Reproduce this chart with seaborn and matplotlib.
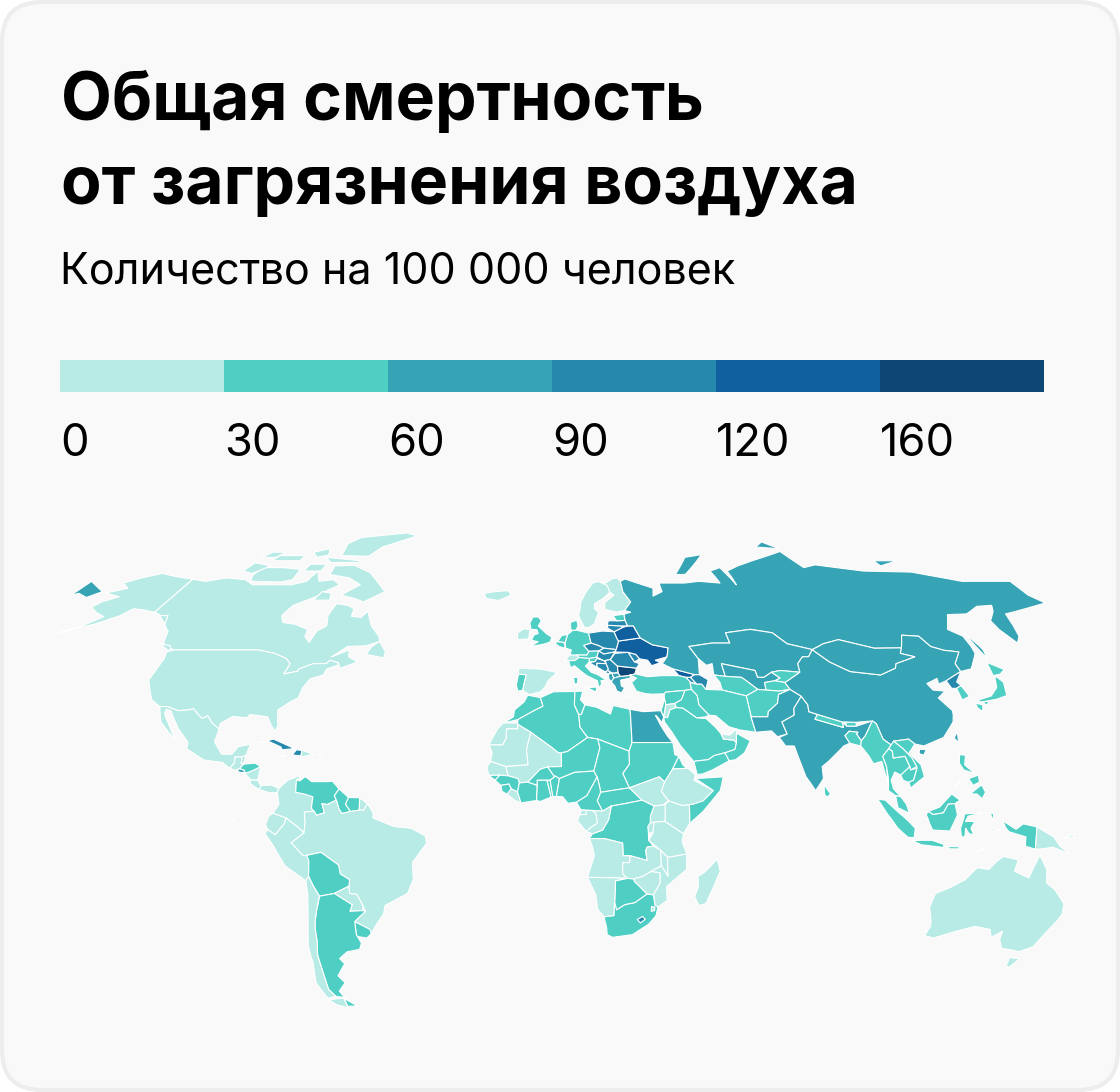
import numpy as np
import matplotlib
matplotlib.use('Agg')
import matplotlib.pyplot as plt
import seaborn as sns
from matplotlib.colors import ListedColormap
from matplotlib.patches import FancyBboxPatch

# legend
bin_labels = ['0', '30', '60', '90', '120', '160']
bin_colors = ['#b8ebe6', '#4fcfc4', '#37a4b5', '#2788ae', '#105f9f', '#0e4675']

# which bin each country falls in (missing countries stay blank, as in the source)
bin0 = ['Canada', 'Alaska', 'USA', 'Mexico', 'Guatemala', 'Belize', 'Nicaragua', 'CostaRica', 'Panama', 'DomRep',
        'Colombia', 'Ecuador', 'Peru', 'Brazil', 'Paraguay', 'Chile', 'FrGuiana', 'WSahara', 'Mauritania', 'Mali',
        'Senegal', 'Liberia', 'SSudan', 'Ethiopia', 'Kenya', 'Uganda', 'Rwanda', 'Tanzania', 'Congo', 'Gabon',
        'EqGuinea', 'Angola', 'Zambia', 'Malawi', 'Mozambique', 'Zimbabwe', 'Namibia', 'Eswatini', 'Madagascar',
        'Australia', 'PNG', 'Ireland', 'Iceland', 'Spain', 'Switzerland', 'Sweden', 'Finland', 'Jordan', 'UAE']
bin1 = ['Honduras', 'Venezuela', 'Guyana', 'Suriname', 'Bolivia', 'Uruguay', 'Argentina', 'Morocco', 'Algeria',
        'Tunisia', 'Libya', 'GuineaBissau', 'Guinea', 'SierraLeone', 'IvoryCoast', 'Burkina', 'Ghana', 'Togo',
        'Benin', 'Niger', 'Nigeria', 'Chad', 'Cameroon', 'CAR', 'Sudan', 'Eritrea', 'Somalia', 'DRC', 'Botswana',
        'SouthAfrica', 'UK', 'Portugal', 'Germany', 'Netherlands', 'Belgium', 'Denmark', 'Austria', 'Slovenia',
        'Italy', 'Estonia', 'Turkey', 'Syria', 'Iraq', 'Israel', 'Saudi', 'Yemen', 'Oman', 'Iran', 'Turkmenistan',
        'Kyrgyzstan', 'Tajikistan', 'Afghanistan', 'Nepal', 'Bhutan', 'Bangladesh', 'Myanmar', 'Thailand', 'Laos',
        'Cambodia', 'Vietnam', 'Malaysia', 'Indonesia', 'Philippines', 'SriLanka', 'SouthKorea', 'Japan']
bin2 = ['Russia', 'Kazakhstan', 'Uzbekistan', 'Mongolia', 'China', 'Pakistan', 'India', 'Taiwan', 'Egypt',
        'ElSalvador', 'Albania', 'Macedonia', 'Greece']
bin3 = ['Cuba', 'Haiti', 'Poland', 'Czechia', 'Slovakia', 'Hungary', 'Croatia', 'Bosnia', 'Serbia', 'Montenegro',
        'Romania', 'Moldova', 'Lithuania', 'Latvia', 'Armenia', 'Azerbaijan', 'NorthKorea', 'Lesotho']
bin4 = ['Ukraine', 'Belarus', 'Georgia']
bin5 = ['Bulgaria']

# outlines as lon/lat rings
americas = {
    'Canada': [[(-141,69.6),(-135,69),(-128,70),(-120,69.5),(-115,68),(-108,68),(-100,68),(-95,69),(-94,72),(-90,69),(-85,69.5),(-81,68),(-85,66),(-87,64.5),(-93,62),(-94.5,59),(-92.5,57),(-88,56.5),(-82.5,55),(-82,52.9),(-79.5,51.2),(-79,54.5),(-76.5,56),(-78,59),(-77.5,62.5),(-73,62),(-70,61),(-69.5,58.8),(-66,58.5),(-64.5,60.3),(-61,56),(-57,53),(-56,51.5),(-60,50.2),(-66,50),(-70,47),(-65,49),(-64.5,47),(-61,45.5),(-66,43.6),(-67,45.2),(-70,46),(-71,45),(-75,45),(-79,43.4),(-79,42.8),(-83,42),(-82.5,45),(-84.5,46.5),(-89,48),(-95,49),(-123,49),(-128,51),(-130,54.5),(-133,56),(-135,59),(-137.5,59),(-141,60)],
               [(-62,66),(-68,63),(-72,64),(-78,65),(-73,68),(-79,70),(-88,71),(-89,73.5),(-81,73.7),(-72,71.5),(-68,69.5)],
               [(-117,69),(-105,68.8),(-101,69.5),(-102,72.5),(-110,73),(-118,73),(-119,71)],
               [(-125,72),(-120,71.3),(-116,73.5),(-124,74.4)],
               [(-90,76.5),(-78,76.3),(-75,79),(-62,82.3),(-68,83.1),(-88,81.8),(-92,80)],
               [(-96,76),(-80,75),(-80,74.5),(-92,74.5)],
               [(-118,75),(-106,75),(-106,76.5),(-117,76.5)],
               [(-124,76),(-118,76),(-116,77.5),(-122,77.5)],
               [(-104,77.5),(-100,76),(-96,76.7),(-98,78.5)],
               [(-100,72),(-93,72),(-93,74),(-100,74)],
               [(-87,63.5),(-81,63.5),(-82,65.5),(-86,66)],
               [(-59,47.7),(-53,46.7),(-53,48.5),(-56,51.5),(-58,50)],
               [(-128.5,50.7),(-123.5,48.4),(-125,50.3)]],
    'Alaska': [[(-141,69.6),(-150,70.5),(-156.5,71.3),(-162,70),(-166.5,68.5),(-162,67),(-164,66.5),(-168,65.6),(-161,64.5),(-165,63),(-166,61.5),(-162,60),(-157.5,58.7),(-162,55.7),(-167,54),(-158,56.5),(-152,59),(-150,61),(-146,60.7),(-141,60),(-137.5,59),(-135,59),(-133,56),(-131,55),(-135,57.5),(-138,59),(-141,60)]],
    'USA': [[(-123,49),(-95,49),(-89,48),(-84.5,46.5),(-82.5,45),(-83,42),(-79,42.8),(-79,43.4),(-75,45),(-71,45),(-70,46),(-67,45.2),(-67,44.5),(-70,43.5),(-70.5,41.7),(-74,40.6),(-75.5,38),(-76,35),(-78,33.9),(-81,31.5),(-80,27),(-80.5,25.2),(-82,27),(-83.5,29.5),(-85,29.7),(-89,30.2),(-89.5,29.2),(-94,29.6),(-97.3,27.5),(-97.2,25.9),(-99.5,27.5),(-101.5,29.8),(-103,29),(-106.5,31.8),(-108.2,31.5),(-111,31.3),(-114.8,32.5),(-117.1,32.5),(-120.5,34.5),(-122.5,37.5),(-124.3,40.3),(-124,46.5),(-124.7,48.4)]],
    'Mexico': [[(-117.1,32.5),(-114.8,32.5),(-111,31.3),(-108.2,31.5),(-106.5,31.8),(-103,29),(-101.5,29.8),(-99.5,27.5),(-97.2,25.9),(-97.8,22.3),(-95,18.6),(-92,18.6),(-90.5,20.8),(-87,21.5),(-87.8,18.3),(-89,17.8),(-91,17.8),(-91,16),(-92.2,14.5),(-94.5,16.2),(-100,16.9),(-105.5,20.2),(-105.5,22),(-109.3,26),(-113,31.2),(-114.7,31.7),(-114.7,30.5),(-111,25),(-109.5,23),(-112,25),(-115,28),(-116,30.5)]],
    'Guatemala': [[(-92.2,14.5),(-91,16),(-91,17.8),(-89,17.8),(-89,15.9),(-88.2,15.7),(-89.3,14.4),(-90.5,13.9)]],
    'Belize': [[(-89,17.8),(-87.8,18.3),(-88.3,16),(-89,15.9)]],
    'ElSalvador': [[(-90,13.7),(-89.3,14.4),(-87.8,13.9),(-87.8,13.2),(-89,13.3)]],
    'Honduras': [[(-89.3,14.4),(-88.2,15.7),(-85,16),(-83.2,15),(-85,14),(-87,13),(-87.8,13.4),(-87.8,13.9)]],
    'Nicaragua': [[(-87.5,13),(-85,14),(-83.2,15),(-83.7,11),(-85.7,11.1)]],
    'CostaRica': [[(-85.7,11.1),(-83.7,11),(-82.6,9.5),(-83,8.2),(-85.7,10)]],
    'Panama': [[(-83,8.2),(-82.6,9.5),(-79.5,9.6),(-77.4,8.6),(-77.8,7.4),(-80,7.3),(-81,7.7)]],
    'Cuba': [[(-84.9,21.9),(-80.5,23),(-75,20.7),(-74.2,20.2),(-77.5,19.9),(-78,20.7),(-82,22.4)]],
    'Haiti': [[(-74.4,18.4),(-71.8,18.1),(-71.7,19.7),(-73.3,19.9)]],
    'DomRep': [[(-71.7,19.8),(-68.4,18.6),(-71.5,17.8),(-71.8,18.1)],
               [(-78.3,18.4),(-76.3,18.1),(-77,17.8)],
               [(-67.2,18.5),(-65.6,18.4),(-66,18)]],
    'Colombia': [[(-77.4,8.6),(-75,11),(-72,12.2),(-71.3,11.8),(-72.4,11.1),(-72.5,7.5),(-70,7),(-67.5,6.2),(-67.8,2.8),(-67,2),(-69.8,1.7),(-69.5,-1),(-70,-4.3),(-72,-2.4),(-75,0),(-78.8,1.4),(-77.2,4),(-77.8,7.4)]],
    'Venezuela': [[(-72.4,11.1),(-71.5,10.8),(-70,12.1),(-68,10.6),(-64,10.6),(-62,10.7),(-60,8.5),(-61.3,6.5),(-60.7,5.2),(-63.3,3.9),(-64.8,4.2),(-64,1.5),(-66.3,0.8),(-67,2),(-67.8,2.8),(-67.5,6.2),(-70,7),(-72.5,7.5)]],
    'Guyana': [[(-60,8.5),(-57.2,6),(-58,4),(-56.5,1.9),(-59,1.3),(-59.8,2.5),(-60.7,5.2),(-61.3,6.5)]],
    'Suriname': [[(-57.2,6),(-54,5.9),(-54,3.6),(-54,2.3),(-56.5,1.9),(-58,4)]],
    'FrGuiana': [[(-54,5.9),(-51.7,4.2),(-52.7,2.3),(-54,2.3),(-54,3.6)]],
    'Brazil': [[(-51.7,4.2),(-50,1.5),(-50,0),(-44,-2.5),(-39,-3),(-35,-5.3),(-34.8,-7.5),(-39,-13),(-39,-18),(-41,-22),(-48,-25.5),(-48.7,-28),(-53.4,-33.7),(-53.5,-32.5),(-57.6,-30.2),(-54,-27.2),(-54.6,-25.5),(-55.9,-22.3),(-58,-22),(-58,-19.9),(-57.6,-18),(-60.2,-16.3),(-60.5,-13.7),(-65.3,-10),(-69.5,-10.9),(-70.5,-11),(-73.8,-7.2),(-70,-4.3),(-69.5,-1),(-69.8,1.7),(-67,2),(-66.3,0.8),(-64,1.5),(-64.8,4.2),(-63.3,3.9),(-60.7,5.2),(-59.8,2.5),(-59,1.3),(-56.5,1.9),(-54,2.3),(-52.7,2.3)]],
    'Ecuador': [[(-78.8,1.4),(-75,0),(-75.5,-1.6),(-78.3,-4.9),(-80.3,-3.4),(-81,-2),(-80,0.5)],
                [(-91.6,-0.3),(-90,-0.4),(-90.8,-1)]],
    'Peru': [[(-81.3,-4.5),(-80.3,-3.4),(-78.3,-4.9),(-75.5,-1.6),(-75,0),(-72,-2.4),(-70,-4.3),(-73.8,-7.2),(-70.5,-11),(-69.5,-10.9),(-69,-12.5),(-69.5,-17),(-70.4,-18.3),(-76,-14),(-79,-8)]],
    'Bolivia': [[(-69.5,-10.9),(-65.3,-10),(-60.5,-13.7),(-60.2,-16.3),(-57.6,-18),(-58,-19.9),(-62.5,-22),(-67,-22.8),(-68.5,-19.5),(-69.5,-17),(-69,-12.5)]],
    'Paraguay': [[(-58,-19.9),(-58,-22),(-55.9,-22.3),(-54.6,-25.5),(-54.7,-27),(-58.6,-27.2),(-57.7,-25.3),(-62.5,-22)]],
    'Uruguay': [[(-58,-34),(-57.6,-30.2),(-53.5,-32.5),(-53.4,-33.7),(-55,-35),(-58,-34.5)]],
    'Argentina': [[(-67,-22.8),(-62.5,-22),(-57.7,-25.3),(-58.6,-27.2),(-54.7,-27),(-54,-27.2),(-57.6,-30.2),(-58,-34),(-57,-36.5),(-58,-38.3),(-62,-39),(-65,-41),(-64,-42.5),(-67.5,-46),(-66,-48),(-69,-50.5),(-68.3,-52.3),(-71,-52),(-72.3,-50),(-72,-46),(-71.5,-40),(-70.5,-36),(-70,-32),(-68.5,-27)],
                  [(-68.6,-52.6),(-65.2,-54.8),(-68.6,-54.9)]],
    'Chile': [[(-70.4,-18.3),(-69.5,-17),(-68.5,-19.5),(-67,-22.8),(-68.5,-27),(-70,-32),(-70.5,-36),(-71.5,-40),(-72,-46),(-72.3,-50),(-71,-52),(-74,-52.5),(-75.5,-48),(-73.8,-42),(-73.5,-37),(-71.5,-30),(-70.3,-22)],
              [(-74,-53),(-68.7,-52.5),(-68.7,-55.3),(-72,-54.5)]],
}

africa = {
    'Morocco': [[(-5.9,35.8),(-2,35.1),(-1.2,32.6),(-3.5,31.5),(-8.7,28.7),(-13,27.7),(-10,29.5),(-9.8,31.5),(-7,33.8)]],
    'WSahara': [[(-13,27.7),(-8.7,27.7),(-8.7,26),(-12,26),(-12,23.4),(-13,21.3),(-17,21.3),(-16,23.5),(-14.5,26.2)]],
    'Algeria': [[(-2,35.1),(2,36.8),(8.6,36.9),(8.3,33),(9.5,30.2),(9.8,26.5),(12,23.5),(6,19.4),(4.2,19),(3.3,19),(1.2,20.7),(-4.8,25),(-8.7,27.3),(-8.7,28.7),(-3.5,31.5),(-1.2,32.6)]],
    'Tunisia': [[(8.6,36.9),(11,37),(10.2,34.5),(11.5,33),(10.3,30.2),(9.5,30.2),(8.3,33)]],
    'Libya': [[(11.5,33),(15,32.3),(19,30.3),(20,32.8),(25,31.7),(25,22),(24,19.5),(15,23),(12,23.5),(9.8,26.5),(9.5,30.2),(10.3,30.2)]],
    'Egypt': [[(25,31.7),(29,31),(34.2,31.3),(34.9,29.5),(34.2,27.8),(33,29.5),(32.5,29.9),(33.8,27),(35.5,24),(37,22),(25,22)]],
    'Mauritania': [[(-17,21.3),(-13,21.3),(-12,23.4),(-12,26),(-8.7,26),(-8.7,27.3),(-4.8,25),(-6,20),(-5.5,15.5),(-12,15),(-16.5,16.5),(-16,19)]],
    'Mali': [[(-4.8,25),(1.2,20.7),(3.3,19),(4.2,19),(4.2,15),(0.2,14.9),(-2,14.2),(-5.5,10.5),(-8,10.2),(-8.4,11.5),(-11.3,12.3),(-12,15),(-5.5,15.5),(-6,20)]],
    'Senegal': [[(-16.5,16.5),(-12,15),(-11.3,12.3),(-13.7,12.5),(-16.8,12.4),(-17.5,14.7)]],
    'GuineaBissau': [[(-16.8,12.4),(-13.7,12.5),(-15,11)]],
    'Guinea': [[(-13.7,12.5),(-11.3,12.3),(-8.4,11.5),(-8,10.2),(-8.5,7.6),(-10.3,8.5),(-11,9.9),(-13.3,9.5),(-15,11)]],
    'SierraLeone': [[(-13.3,9.5),(-11,9.9),(-10.3,8.5),(-11.5,6.9),(-13,7.8)]],
    'Liberia': [[(-11.5,6.9),(-10.3,8.5),(-8.5,7.6),(-7.5,4.4),(-9,5)]],
    'IvoryCoast': [[(-8.5,7.6),(-8,10.2),(-5.5,10.5),(-2.8,9.5),(-3,5.1),(-7.5,4.4)]],
    'Burkina': [[(-5.5,10.5),(-2,14.2),(0.2,14.9),(2.2,12),(0.9,11),(-2.8,11),(-2.8,9.5)]],
    'Ghana': [[(-2.8,11),(0,11),(1.2,6.1),(-2,4.8),(-3,5.1),(-2.8,9.5)]],
    'Togo': [[(0,11),(0.9,11),(1.7,6.2),(1.2,6.1)]],
    'Benin': [[(0.9,11),(2.2,12),(2.4,12.3),(3.6,11.5),(2.7,6.3),(1.7,6.2)]],
    'Niger': [[(0.2,14.9),(4.2,15),(4.2,19),(6,19.4),(12,23.5),(15,23),(15.5,20.5),(13.6,13.7),(8,13.3),(3.6,11.5),(2.4,12.3),(2.2,12)]],
    'Nigeria': [[(2.7,6.3),(3.6,11.5),(8,13.3),(13.6,13.7),(14.5,12),(11.5,6.5),(8.5,4.6),(6,4.3),(4.5,6.2)]],
    'Chad': [[(15,23),(24,19.5),(24,15.7),(22,13),(23.8,8.8),(18.6,8),(15.5,7.5),(15,10),(14.5,12),(13.6,13.7),(15.5,20.5)]],
    'Cameroon': [[(11.5,6.5),(14.5,12),(15,10),(15.5,7.5),(14.5,5),(16,2),(13,2.2),(9.8,2.3),(8.5,4.6)]],
    'CAR': [[(15.5,7.5),(18.6,8),(23.8,8.8),(27.4,5.2),(22.5,4.2),(18.5,3.5),(16,2),(14.5,5)]],
    'Sudan': [[(24,19.5),(25,22),(37,22),(37.3,18.5),(38.5,18),(36.5,14.3),(34,10.5),(32.5,12),(27,10),(23.8,8.8),(22,13),(24,15.7)]],
    'SSudan': [[(23.8,8.8),(27,10),(32.5,12),(34,10.5),(33,7.8),(35,5),(33.5,3.8),(30.8,3.5),(27.4,5.2)]],
    'Eritrea': [[(36.5,14.3),(38.5,18),(39.5,15.5),(43,12.6),(41,14.5)]],
    'Ethiopia': [[(34,10.5),(36.5,14.3),(41,14.5),(43,12.6),(42.5,11),(48,8),(45,5),(42,4),(39,3.6),(35,5),(33,7.8)]],
    'Somalia': [[(43,11.5),(51,12),(50,8),(45,2),(41,-1.6),(41,3.9),(42,4),(45,5),(48,8)]],
    'Kenya': [[(35,5),(39,3.6),(41,3.9),(41,-1.6),(39.3,-4.6),(33.9,-1),(34,4)]],
    'Uganda': [[(30.8,3.5),(33.5,3.8),(35,5),(34,4),(33.9,-1),(29.7,-1.4),(29.7,0.5)]],
    'Rwanda': [[(29.7,-1.4),(30.8,-1.2),(30.5,-4.4),(29.2,-4.3),(29,-2.5)]],
    'Tanzania': [[(33.9,-1),(39.3,-4.6),(39,-7),(40.4,-10.5),(34.9,-11.5),(32.8,-9.4),(29.3,-6.5),(30.5,-4.4),(30.8,-1.2)]],
    'DRC': [[(18.5,3.5),(22.5,4.2),(27.4,5.2),(30.8,3.5),(29.7,0.5),(29.7,-1.4),(29,-2.5),(29.2,-4.3),(29.3,-6.5),(30.7,-8.2),(28.9,-8.5),(28.5,-9.5),(29,-12.4),(27,-11.8),(24,-11),(22,-11),(21.8,-7.3),(16.5,-6),(12.2,-6),(13.1,-4.6),(16,-3.5),(17.7,-0.5)]],
    'Congo': [[(16,2),(18.5,3.5),(17.7,-0.5),(16,-3.5),(13.1,-4.6),(11.2,-3.9),(13.2,-2.3),(14.5,-1.5),(14,1.4),(13,2.2)]],
    'Gabon': [[(9.8,2.3),(13,2.2),(14,1.4),(14.5,-1.5),(13.2,-2.3),(11.2,-3.9),(8.8,-0.8),(9.4,1)]],
    'EqGuinea': [[(9.8,2.3),(11.3,2.2),(11.3,1),(9.5,1)]],
    'Angola': [[(12.2,-6),(16.5,-6),(21.8,-7.3),(22,-11),(24,-11),(24,-13),(22,-13),(22,-16.2),(23.4,-17.6),(18.5,-17.4),(11.8,-17.3),(13.7,-11),(13,-8)]],
    'Zambia': [[(22,-13),(24,-13),(24,-11),(27,-11.8),(29,-12.4),(28.5,-9.5),(28.9,-8.5),(30.7,-8.2),(32.8,-9.4),(33.2,-14),(30.2,-15.6),(28,-17),(25.3,-17.8),(23.4,-17.6),(22,-16.2)]],
    'Malawi': [[(32.8,-9.4),(34.9,-11.5),(35,-14),(35.3,-17),(33.2,-14)]],
    'Mozambique': [[(34.9,-11.5),(40.4,-10.5),(40.6,-15),(35,-20),(35.5,-24),(32.9,-26),(32,-25.5),(31.3,-22.4),(33,-19),(32.9,-16),(30.2,-15.6),(33.2,-14),(35.3,-17),(35,-14)]],
    'Zimbabwe': [[(25.3,-17.8),(28,-17),(30.2,-15.6),(32.9,-16),(33,-19),(31.3,-22.4),(29.4,-22.2),(25.5,-18.5)]],
    'Botswana': [[(20,-18.3),(23.4,-17.6),(25.3,-17.8),(25.5,-18.5),(29.4,-22.2),(26,-24.7),(23,-25.3),(20.7,-26.8),(20,-24.8),(20,-22)]],
    'Namibia': [[(11.8,-17.3),(18.5,-17.4),(23.4,-17.6),(20,-18.3),(20,-22),(20,-24.8),(20,-28.5),(17,-28.8),(15,-26.5),(14.4,-22.5)]],
    'SouthAfrica': [[(17,-28.8),(20,-28.5),(20,-24.8),(20.7,-26.8),(23,-25.3),(26,-24.7),(29.4,-22.2),(31.3,-22.4),(32,-25.5),(32.9,-26),(32.5,-28.5),(30.5,-31),(26,-34),(20,-34.8),(18.3,-34),(18,-32)]],
    'Lesotho': [[(27,-29.6),(28.5,-28.7),(29.4,-29.5),(28,-30.6)]],
    'Eswatini': [[(31,-25.8),(32,-26),(32,-27),(31,-27.2)]],
    'Madagascar': [[(49.3,-12),(50.4,-15.5),(47,-25),(45,-25.5),(43.5,-23),(44.3,-20),(44,-17),(46,-15.7)]],
}

europe = {
    'UK': [[(-5,58.6),(-3,58.6),(-2,57.5),(-3,56),(-1.5,54.8),(0,53.6),(1.7,52.7),(1,51.3),(-1,50.7),(-5.5,50),(-3,51.4),(-5.2,51.8),(-4.5,53.3),(-3,53.8),(-3.5,54.9),(-5.5,55),(-6,56.8)]],
    'Ireland': [[(-10,52),(-6.2,52.2),(-6,54),(-5.8,54.9),(-8,55.2),(-10,54)]],
    'Iceland': [[(-24,65.5),(-20,66),(-15,66.3),(-13.5,65),(-18,63.4),(-22.7,64)]],
    'Portugal': [[(-9,41.9),(-6.5,41.8),(-7,39.7),(-7.5,37.2),(-9,37),(-9.5,38.7)]],
    'Spain': [[(-9,43.7),(-1.8,43.4),(3.2,42.4),(0.3,40),(-0.4,38.5),(-2,36.8),(-5.4,36),(-7.5,37.2),(-7,39.7),(-6.5,41.8),(-9,41.9)]],
    'Switzerland': [[(6,46.2),(7.5,47.6),(9.6,47.5),(10.4,46.8),(9,45.9),(7,45.9)]],
    'Germany': [[(6,51),(7,53.5),(8.8,54.7),(10,54.8),(14.2,53.9),(14.7,51),(12.2,50.3),(13.8,48.6),(13,47.5),(9.6,47.5),(7.5,47.6),(8,49),(6.2,49.5)]],
    'Netherlands': [[(3.5,51.4),(5,53.2),(7,53.5),(6,51),(5.5,51.2)]],
    'Belgium': [[(2.6,51),(3.5,51.4),(5.5,51.2),(6,50.5),(5.7,49.5),(4,50)]],
    'Denmark': [[(8.2,55),(8.2,57),(10.5,57.7),(10.8,56),(10,54.8),(8.8,54.7)]],
    'Sweden': [[(11.2,59),(13,55.5),(14.3,55.5),(16.5,56.5),(18.5,60),(17.2,61),(17.5,62.5),(21,64),(24,65.8),(23.5,67.8),(20.5,69),(18,68.5),(15,66),(12.5,63),(12,61)]],
    'Finland': [[(21,60.8),(25,60),(28,60.5),(31,63),(29,66),(29,69),(28,70),(26,69.8),(23,68.5),(20.5,69),(23.5,67.8),(24,65.8),(25.3,65),(21.3,62.8)]],
    'Poland': [[(14.2,53.9),(19,54.5),(23,54.3),(23.6,52.3),(24,51.6),(22.8,49.1),(19,49.5),(18.8,49.5),(17,50.3),(14.7,51)]],
    'Czechia': [[(12.2,50.3),(14.7,51),(17,50.3),(18.8,49.5),(17,48.7),(13.8,48.6)]],
    'Slovakia': [[(17,48.7),(18.8,49.5),(19,49.5),(22.8,49.1),(22.2,48.4),(18.5,47.8)]],
    'Austria': [[(9.6,47.5),(13,47.5),(13.8,48.6),(17,48.7),(16.2,46.9),(13.7,46.5),(10.4,46.8)]],
    'Hungary': [[(16.2,46.9),(17,48.7),(18.5,47.8),(22.2,48.4),(20.5,46.2),(18.8,45.9),(18.5,45.8)]],
    'Slovenia': [[(13.7,46.5),(16.2,46.9),(16.2,46.5),(15.5,45.6),(13.6,45.5)]],
    'Croatia': [[(13.6,45.3),(15.5,45.6),(16.2,46.5),(18.5,45.8),(19,45),(16,45.1),(16,44),(18.4,42.6),(15,44.5)]],
    'Bosnia': [[(16,45.1),(19,45),(19.5,43.5),(19.3,43),(18.4,42.6),(16,44)]],
    'Serbia': [[(18.8,45.9),(20.5,46.2),(22.5,44.3),(22.5,42.5),(21,42.2),(20.5,42.3),(19.3,43),(19.5,43.5),(19,45)]],
    'Montenegro': [[(18.4,42.6),(19.3,43),(20,42.5),(19.3,41.9)]],
    'Albania': [[(19.3,41.9),(20.5,42.3),(20.9,40.8),(20,39.7),(19.4,40.5)]],
    'Macedonia': [[(20.5,42.3),(21,42.2),(22.5,42.3),(23,41.3),(20.9,40.8)]],
    'Greece': [[(20,39.7),(20.9,40.8),(23,41.3),(26.3,41.6),(26,40.8),(23,40.2),(23,38.5),(24,38),(22.9,36.5),(21.5,37),(21,38.5)],
               [(23.6,35.5),(26.2,35.2),(25,35)]],
    'Bulgaria': [[(22.5,44.3),(28.5,43.7),(27.7,42),(26.3,41.6),(23,41.3),(22.5,42.3)]],
    'Romania': [[(20.5,46.2),(22.2,48),(26.6,48.3),(28.2,45.5),(29.7,45),(28.5,43.7),(22.5,44.3)]],
    'Moldova': [[(26.6,48.3),(29,47.7),(30,46.4),(28.2,45.5)]],
    'Ukraine': [[(22.2,48.4),(22.8,49.1),(24,51.6),(31.5,52.5),(35,50.5),(40,49.6),(39,47),(35,46),(36.5,45.3),(33.5,44.4),(32.5,46),(30,46.4),(29,47.7),(26.6,48.3)]],
    'Belarus': [[(23.6,52.3),(24,51.6),(31.5,52.5),(30,56),(28,56),(26,55.5),(23,54.3)]],
    'Lithuania': [[(21,55.3),(23,54.3),(26,55.5),(26,56),(21,56.2)]],
    'Latvia': [[(21,56.2),(21.5,57.5),(24.5,57.5),(27.5,57.6),(28,56),(26,56)]],
    'Estonia': [[(23.5,59),(27.5,59.4),(27.5,57.6),(24.5,57.5)]],
    'Georgia': [[(40,43.5),(46.5,41.8),(45,41),(43.5,41),(41.5,41.5)]],
    'Armenia': [[(43.5,41),(45,41),(46.5,39),(44.5,39.7)]],
    'Azerbaijan': [[(45,41),(46.5,41.8),(48,41.8),(50.3,40.3),(49,37.5),(48,39),(46.5,39)]],
    'Italy': [[(7,45.9),(9,45.9),(10.4,46.8),(13.7,46.5),(13.6,45.5),(12.3,44.3),(14,42.5),(16,41.8),(18.5,40.2),(16.8,40),(17,39),(16,38),(15.7,40),(12.5,41.5),(10.5,43),(8.8,44.4),(7.5,43.8)],
              [(12.5,38),(15.5,38.2),(15,36.7)],
              [(8.3,41),(9.7,41),(9.5,39.2),(8.5,39)]],
}

asia = {
    'Russia': [[(31,69.7),(41,67),(40,64.7),(44,66),(44,68.5),(54,68.5),(60,69),(68,68.5),(67,72),(72,73),(74,68),(74,72),(80,73.5),(88,75),(104,77.7),(107,73),(113,73.8),(130,72),(149,71.7),(164,69),(183,69),(182,65),(184,62.7),(171,60.6),(164,59.5),(162,56),(160,53),(157,51),(155.7,55),(156,57.5),(161,60.5),(163,62),(157,61.7),(150,59.5),(143,59.3),(138,55),(141,53),(140,48),(135,43.5),(131,42.7),(131,45),(135,48.4),(130.5,48.9),(127,50),(126,53),(120.5,53.3),(117,49.6),(108,49.5),(98,52),(92,50.8),(87.3,49.1),(80,50.8),(77,54),(70,55),(61,54),(61,51),(55,51),(47,50),(49,46.5),(48,41.8),(46.5,41.8),(40,43.5),(37,45),(39,47),(40,49.6),(35,50.5),(31.5,52.5),(30,56),(28,56),(27.5,57.6),(27.5,59.4),(30,60),(28,60.5),(31,63),(29,66),(29,69)],
               [(-180,69),(-175,67.5),(-170,66),(-173,64.3),(-178,65.5),(-180,65)],
               [(52,71),(56,71),(68,76.8),(60,76)],
               [(95,79),(105,78.5),(100,80.5)],
               [(140,75),(150,75),(140,73.5)],
               [(142.5,54.3),(143.5,49),(142.7,46.5),(142,50)]],
    'Kazakhstan': [[(47,50),(55,51),(61,51),(61,54),(70,55),(77,54),(80,50.8),(87.3,49.1),(85,47),(83,47),(80.5,45),(80,42.5),(74,43),(71,42.5),(68,41),(66,41),(66,43),(61,44),(56,45),(56,41.3),(52.5,41.7),(53,45),(51,44.5),(49,46.5)]],
    'Uzbekistan': [[(56,45),(61,44),(66,43),(66,41),(68,41),(71,42.5),(73,40.8),(71,40),(67.7,39.5),(67.5,37.3),(65,37.5),(61,41),(56,41.3)]],
    'Turkmenistan': [[(52.5,41.7),(56,41.3),(61,41),(65,37.5),(61,35.6),(54,37.3),(53.8,39.5)]],
    'Kyrgyzstan': [[(71,42.5),(74,43),(80,42.5),(74,39.5),(71,40),(73,40.8)]],
    'Tajikistan': [[(67.7,39.5),(71,40),(74,39.5),(75,37.5),(71.5,37),(67.5,37.3)]],
    'Afghanistan': [[(61,35.6),(65,37.5),(67.5,37.3),(71.5,37),(75,37.5),(71,36),(70,33.5),(66.5,31),(66,29.5),(61,29.5),(61,31.5)]],
    'Iran': [[(44.5,39.5),(46.5,39),(48,39),(49,37.5),(54,37.3),(61,35.6),(61,31.5),(61,29.5),(61.8,25),(57,25.7),(54,26.6),(50.5,29.8),(48.5,30),(46,33),(46,35.7),(44.5,37.5)]],
    'Pakistan': [[(61,29.5),(66,29.5),(66.5,31),(70,33.5),(71,36),(75,37.5),(77.8,35.5),(74.5,32),(74,30),(70,28),(71,24.5),(68,23.7),(66.5,25.4),(61.8,25)]],
    'India': [[(77.8,35.5),(79,33),(78.7,31),(81,30.2),(80,28.8),(88,26.4),(88,28),(89,26.8),(92,26.8),(97,28.3),(94,24),(92.5,22.5),(91.5,24.5),(92,25),(89.5,25.3),(88,24),(89,21.8),(87,21),(82,16.5),(80,15),(80,11.5),(77.5,8),(75,12),(73,19),(72.5,21),(70,21),(68.5,23.5),(71,24.5),(70,28),(74,30),(74.5,32)]],
    'Nepal': [[(80,28.8),(81,30.2),(88,28),(88,26.4)]],
    'Bhutan': [[(89,26.8),(89,28),(92,27.9),(92,26.8)]],
    'Bangladesh': [[(88,24),(89.5,25.3),(92,25),(91.5,24.5),(92.5,22.5),(92,21),(89,21.8)]],
    'China': [[(74,39.5),(80,42.5),(80.5,45),(83,47),(85,47),(87.3,49.1),(91,45.5),(96,42.7),(105,41.7),(111,43.7),(112,45),(119.5,47),(115.5,48),(117,49.6),(120.5,53.3),(126,53),(127,50),(130.5,48.9),(135,48.4),(131,45),(131,42.7),(128,41.5),(124.4,40),(121.5,39),(122,40.7),(118,39.2),(119,37.3),(122.5,37),(119.5,35),(122,31.3),(121,28),(117,23.5),(110.5,21),(108,21.6),(106.5,23),(102,22.4),(101,21.3),(99,23),(98,27.5),(97,28.3),(92,27.9),(89,28),(88,28),(81,30.2),(78.7,31),(79,33),(77.8,35.5),(75,37.5)],
              [(109,20),(111,20),(110,18.3),(108.7,18.8)]],
    'Mongolia': [[(87.3,49.1),(92,50.8),(98,52),(108,49.5),(117,49.6),(115.5,48),(119.5,47),(112,45),(111,43.7),(105,41.7),(96,42.7),(91,45.5)]],
    'NorthKorea': [[(124.4,40),(128,41.5),(131,42.7),(130.5,42.3),(127.5,39.7),(128.3,38.6),(126.5,37.8),(125,37.8)]],
    'SouthKorea': [[(126.5,37.8),(128.3,38.6),(129.3,35.5),(126.5,34.4)]],
    'Japan': [[(141,41.3),(142,39.5),(140.8,35.7),(137,34.6),(132,33.8),(131,34.3),(136,35.6),(139,38),(140,40.5)],
              [(140.3,41.5),(141.5,45.4),(145.3,43.3),(143,42)],
              [(130,33.5),(132,33),(131,31),(130,32)],
              [(132.5,33.9),(134.5,34),(133,32.8)]],
    'Taiwan': [[(121.5,25.2),(121,22),(120,23.3)]],
    'Myanmar': [[(92,21),(92.5,22.5),(94,24),(97,28.3),(98,27.5),(99,23),(101,21.3),(100,20.2),(98,18),(98.7,15),(98.5,10),(97.5,16.5),(95,15.8),(94,18)]],
    'Thailand': [[(100,20.2),(101,19.5),(101,17.5),(104.5,18),(105.5,15),(102.5,12.5),(100.9,13.4),(99.5,11),(100,8.5),(102,6.2),(100.5,6.5),(98.5,8),(98.8,12),(98.7,15),(98,18)]],
    'Laos': [[(101,21.3),(102,22.4),(104,20.5),(106.5,17.5),(107.5,15),(105.5,14),(105.5,15),(104.5,18),(101,17.5),(101,19.5),(100,20.2)]],
    'Cambodia': [[(102.5,12.5),(105.5,15),(105.5,14),(107.5,14.5),(106,11),(104.5,10.4),(103,11)]],
    'Vietnam': [[(102,22.4),(106.5,23),(108,21.6),(105.8,19),(108.8,15.5),(109.3,12),(106.5,10),(105,8.7),(104.5,10.4),(106,11),(107.5,14.5),(107.5,15),(106.5,17.5),(104,20.5)]],
    'Malaysia': [[(100.5,6.5),(102,6.2),(103.5,4),(104.2,1.4),(101,3)],
                 [(109.7,1.9),(113,3.2),(116.7,7),(119,5.2),(117.5,4.2),(115.5,4),(114,1.5),(111,1)]],
    'Indonesia': [[(109,1),(109.7,1.9),(111,1),(114,1.5),(115.5,4),(117.5,4.2),(118,1),(116,-3.8),(111,-3.5),(110,-1.5)],
                  [(95.3,5.5),(97.5,5.2),(100.5,2.2),(104,-1),(106,-3),(105.8,-5.8),(104,-5.6),(101,-3),(98,1)],
                  [(105.3,-6.6),(108,-6.5),(111,-6.5),(114.5,-7.7),(114.5,-8.6),(108,-7.8)],
                  [(120,1.2),(125,1.5),(121,0.5),(120.3,-1),(123,-1),(122,-3),(123,-5),(121.5,-4.5),(120.5,-3),(120.4,-5.5),(119.4,-5.5),(119,-3),(119.8,0)],
                  [(131,-0.8),(135,-3.3),(137,-1.7),(141,-2.6),(141,-9.1),(138,-8.2),(138,-5.5),(133,-4),(132,-2.8)],
                  [(116,-8.3),(119,-8.4),(119,-9),(116,-9)],
                  [(124,-10),(127,-8.5),(125,-9.5)],
                  [(127.5,1.5),(128,-0.8),(128.5,1.2)],
                  [(128,-3),(130.5,-3.5),(128,-3.5)]],
    'Philippines': [[(120.5,18.5),(122.2,18.3),(121.5,15.5),(124,13),(121,14),(120,16)],
                    [(122,7),(125.5,9.7),(126.5,7.5),(125.4,5.6),(124,7)],
                    [(122,11.5),(125,12.5),(125,10.5),(123,9.5)],
                    [(117.5,8.5),(119.5,11.2),(119,10)]],
    'SriLanka': [[(80,9.7),(81.8,7),(80.7,6),(80,7)]],
    'Australia': [[(114.2,-22),(113.5,-26),(115.5,-31.5),(115,-34.3),(118,-35),(124,-33),(129,-31.6),(134,-32.5),(135.5,-34.8),(138,-33),(138.5,-35.5),(140.5,-38),(144,-38.5),(146.5,-39),(150,-37.5),(151.5,-33),(153.5,-28),(153,-25),(149,-21),(146,-19),(145.3,-15),(142.5,-10.8),(141.5,-14),(140.5,-17.5),(136,-15.5),(136.5,-12.2),(132,-11.2),(130,-13),(128.5,-15),(125,-14.5),(122,-18),(118,-20.3)],
                  [(144.7,-40.7),(148.3,-41),(147,-43.6),(145.7,-43)]],
    'PNG': [[(141,-2.6),(146,-5.5),(148,-8.2),(150.8,-10.5),(146,-8.5),(143,-9),(141,-9.1)],
            [(149,-6),(152,-4.5),(151.5,-5.5)]],
    'Turkey': [[(26,41.7),(28,42),(31.5,41.2),(36,41.5),(41.5,41.5),(43.5,41),(44.5,39.7),(44.5,37.5),(42.5,37.2),(36.5,36.7),(36,36.2),(32,36.1),(30,36.3),(27.5,37),(26.3,39.5),(28,40.8)]],
    'Syria': [[(36,36.2),(36.5,36.7),(42.5,37.2),(41,34.5),(38.8,33.4),(36,33),(35.8,35)]],
    'Iraq': [[(42.5,37.2),(44.5,37.5),(46,35.7),(46,33),(48.5,30),(47.5,29.5),(44.7,29.2),(41,32),(39,32.2),(38.8,33.4),(41,34.5)]],
    'Israel': [[(35.8,35),(36,33),(35.5,31.5),(34.9,29.5),(34.3,31.3),(35.1,33)]],
    'Jordan': [[(35.5,31.5),(36,33),(38.8,33.4),(39,32.2),(37,31.5),(36,29.2),(34.9,29.5)]],
    'Saudi': [[(34.9,29.5),(36,29.2),(37,31.5),(39,32.2),(41,32),(44.7,29.2),(47.5,29),(48.5,28),(50,26.5),(51.5,24.5),(52,23),(55,22.7),(55.7,22),(55,20),(52,19),(48.8,18.2),(47,17),(43.3,16.6),(42.8,16.4),(39.2,21),(37,25),(35,28)]],
    'Yemen': [[(42.8,16.4),(43.3,16.6),(47,17),(48.8,18.2),(52,19),(53.1,16.7),(48,14),(45,12.8),(43.5,12.7)]],
    'Oman': [[(52,19),(55,20),(55.7,22),(56,24.7),(56.4,24.5),(59.8,22.5),(57.7,19),(55,17),(53.1,16.7)]],
    'UAE': [[(51.5,24.5),(54,24.2),(56.3,26),(56,24.7),(55.7,22),(55,22.7),(52,23)]],
}

# Robinson-style squeeze of longitude with latitude, fitted to the picture
squeeze_lat = [0, 10, 20, 30, 40, 50, 60, 70, 80, 90]
squeeze_val = [1, .995, .982, .96, .922, .868, .80, .719, .621, .53]


def project(ring):
    pts = np.array(ring + ring[:1], dtype=float)
    # densify so straight borders bend with the projection
    lon = np.concatenate([np.linspace(a, b, 12, endpoint=False) for a, b in zip(pts[:-1, 0], pts[1:, 0])])
    lat = np.concatenate([np.linspace(a, b, 12, endpoint=False) for a, b in zip(pts[:-1, 1], pts[1:, 1])])
    x = 547 + 3.48 * lon * np.interp(np.abs(lat), squeeze_lat, squeeze_val)
    y = 818 - 3.43 * lat
    return x, y


sns.set_theme(style='white')
plt.rcParams['font.family'] = ['Inter', 'DejaVu Sans']

fig = plt.figure(figsize=(11.2, 10.92), dpi=100, facecolor='white')
ax = fig.add_axes([0, 0, 1, 1])
ax.set_xlim(0, 1120)
ax.set_ylim(1092, 0)
ax.axis('off')

# card
ax.add_patch(FancyBboxPatch((2, 2), 1116, 1088, boxstyle='round,pad=0,rounding_size=40',
                            facecolor='#f9f9f9', edgecolor='#ededed', linewidth=3))

# title block
ax.text(61, 120, 'Общая смертность', fontsize=47.6, fontweight='bold', color='black', va='baseline')
ax.text(61, 204, 'от загрязнения воздуха', fontsize=47.6, fontweight='bold', color='black', va='baseline')
ax.text(60, 284, 'Количество на 100 000 человек', fontsize=31, color='black', va='baseline')

# legend strip
leg = fig.add_axes([60 / 1120, 1 - 392 / 1092, 984 / 1120, 32 / 1092])
sns.heatmap(np.arange(len(bin_labels)).reshape(1, -1), ax=leg, cmap=ListedColormap(bin_colors), cbar=False,
            xticklabels=False, yticklabels=False, linewidths=0)
for i, label in enumerate(bin_labels):
    ax.text(60 + i * 164, 456, label, fontsize=32.5, color='black', va='baseline')

# map
bins = [bin0, bin1, bin2, bin3, bin4, bin5]
lookup = {name: i for i, names in enumerate(bins) for name in names}
for region in [americas, africa, europe, asia]:
    for name, rings in region.items():
        for ring in rings:
            x, y = project(ring)
            ax.fill(x, y, facecolor=bin_colors[lookup[name]], edgecolor='white', linewidth=0.8, joinstyle='round')

fig.savefig('out.png', dpi=100, facecolor='white')
